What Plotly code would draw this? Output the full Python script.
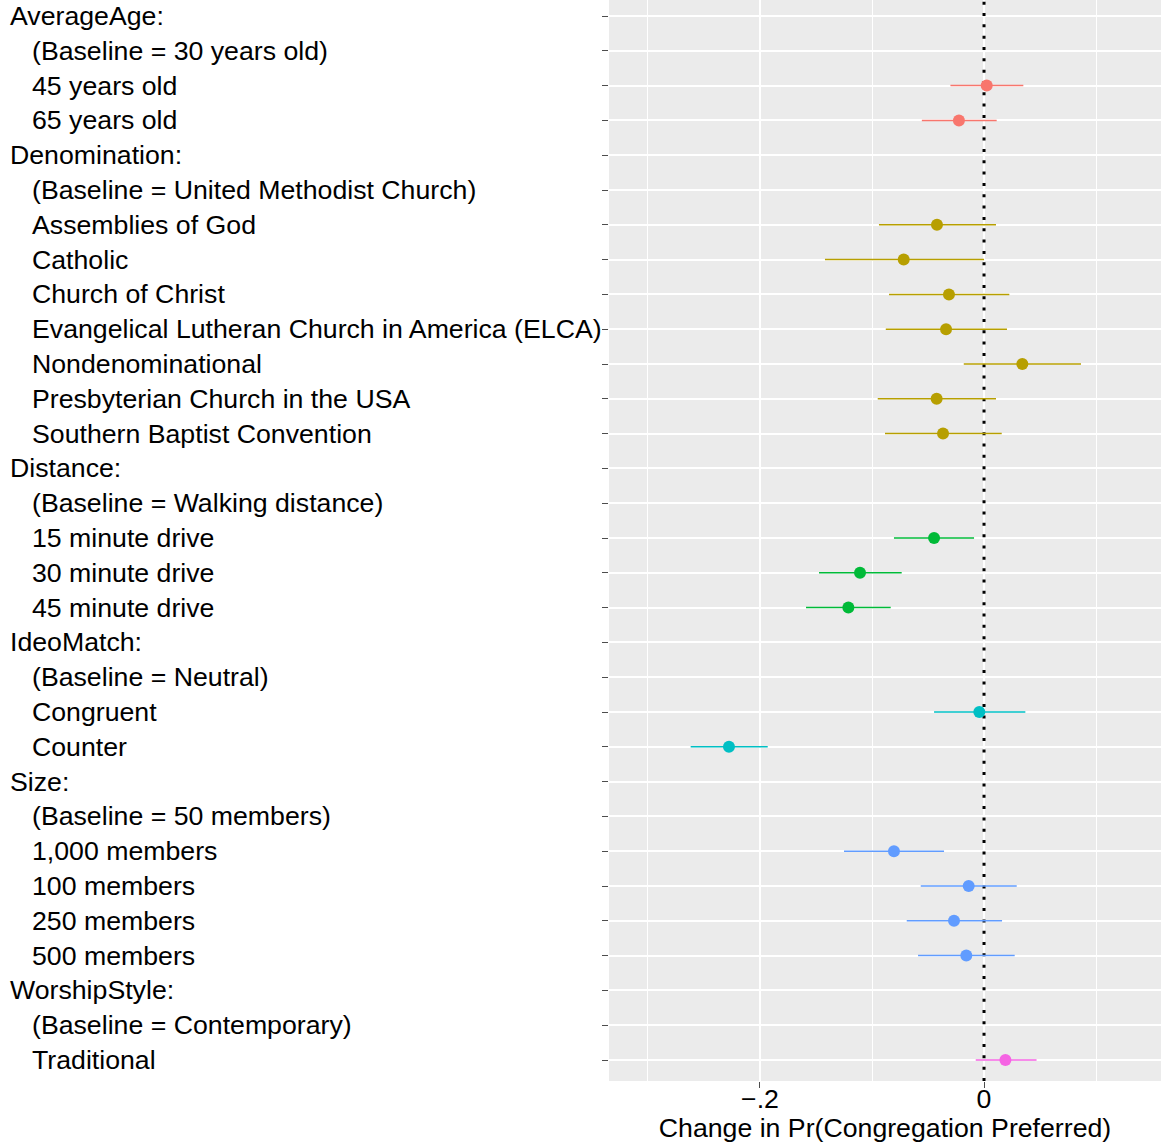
import plotly.graph_objects as go

# Row labels, top to bottom; headers flush left, levels indented
labels = [
    "AverageAge:", "(Baseline = 30 years old)", "45 years old", "65 years old",
    "Denomination:", "(Baseline = United Methodist Church)", "Assemblies of God", "Catholic",
    "Church of Christ", "Evangelical Lutheran Church in America (ELCA)", "Nondenominational",
    "Presbyterian Church in the USA", "Southern Baptist Convention",
    "Distance:", "(Baseline = Walking distance)", "15 minute drive", "30 minute drive", "45 minute drive",
    "IdeoMatch:", "(Baseline = Neutral)", "Congruent", "Counter",
    "Size:", "(Baseline = 50 members)", "1,000 members", "100 members", "250 members", "500 members",
    "WorshipStyle:", "(Baseline = Contemporary)", "Traditional",
]
is_header = [lab.endswith(":") for lab in labels]

attributes = ["AverageAge", "Denomination", "Distance", "IdeoMatch", "Size", "WorshipStyle"]
attr_colors = ["#F8766D", "#B79F00", "#00BA38", "#00BFC4", "#619CFF", "#F564E3"]

# Estimates with 95% intervals per attribute level (None for header/baseline rows)
row_attr = (["AverageAge"] * 4 + ["Denomination"] * 9 + ["Distance"] * 5
            + ["IdeoMatch"] * 4 + ["Size"] * 6 + ["WorshipStyle"] * 3)
estimate = [None, None, 0.0024, -0.0224,
            None, None, -0.0420, -0.0717, -0.0313, -0.0339, 0.0342, -0.0423, -0.0366,
            None, None, -0.0446, -0.1107, -0.1211,
            None, None, -0.0042, -0.2277,
            None, None, -0.0804, -0.0137, -0.0268, -0.0158,
            None, None, 0.0191]
lower = [None, None, -0.0300, -0.0555,
         None, None, -0.0938, -0.1420, -0.0848, -0.0877, -0.0181, -0.0949, -0.0884,
         None, None, -0.0804, -0.1473, -0.1589,
         None, None, -0.0446, -0.2619,
         None, None, -0.1250, -0.0565, -0.0690, -0.0589,
         None, None, -0.0074]
upper = [None, None, 0.0351, 0.0113,
         None, None, 0.0107, 0.0000, 0.0226, 0.0205, 0.0866, 0.0107, 0.0158,
         None, None, -0.0089, -0.0735, -0.0833,
         None, None, 0.0369, -0.1931,
         None, None, -0.0357, 0.0292, 0.0161, 0.0274,
         None, None, 0.0469]

n = len(labels)
ypos = [n - i for i in range(n)]  # top row gets the largest value
y_range = [0.397, 31.46]

FONT = "Liberation Sans, Arial, Helvetica, sans-serif"
FS = 26.7

fig = go.Figure()

# Dotted reference line at zero, beneath the estimates
fig.add_trace(go.Scatter(
    x=[0, 0], y=y_range, mode="lines",
    line=dict(color="black", width=3, dash="3px,8.33px"),
    showlegend=False, hoverinfo="skip",
))

for attr, col in zip(attributes, attr_colors):
    idx = [i for i in range(n) if row_attr[i] == attr and estimate[i] is not None]
    fig.add_trace(go.Scatter(
        x=[estimate[i] for i in idx],
        y=[ypos[i] for i in idx],
        mode="markers",
        marker=dict(color=col, size=12, line=dict(width=0)),
        error_x=dict(
            type="data", symmetric=False,
            array=[upper[i] - estimate[i] for i in idx],
            arrayminus=[estimate[i] - lower[i] for i in idx],
            width=0, thickness=1.5, color=col,
        ),
        showlegend=False,
        hoverinfo="skip",
    ))

# Left-aligned row labels
for lab, hdr, y in zip(labels, is_header, ypos):
    fig.add_annotation(
        text=lab, xref="paper", yref="y", x=0, y=y,
        xanchor="left", yanchor="middle",
        xshift=-601 if hdr else -579,
        showarrow=False,
        font=dict(family=FONT, size=FS, color="black"),
    )

fig.update_layout(
    width=1161, height=1143,
    margin=dict(l=609, r=0, t=0, b=62, autoexpand=False),
    paper_bgcolor="white",
    plot_bgcolor="#EBEBEB",
    font=dict(family=FONT, color="black"),
    xaxis=dict(
        range=[-0.3348, 0.158],
        tickmode="array", tickvals=[-0.2, 0], ticktext=["\u2212.2", "0"],
        ticks="outside", ticklen=6, tickwidth=1.2, tickcolor="#4d4d4d",
        ticklabelstandoff=-12,
        tickfont=dict(family=FONT, size=FS, color="black"),
        showgrid=True, gridcolor="white", gridwidth=2,
        minor=dict(tickmode="array", tickvals=[-0.3, -0.1, 0.1], showgrid=True,
                   gridcolor="white", gridwidth=1, ticks=""),
        zeroline=False, showline=False,
        title=dict(text="Change in Pr(Congregation Preferred)",
                   font=dict(family=FONT, size=FS, color="black"), standoff=0),
        automargin=False,
    ),
    yaxis=dict(
        range=y_range,
        tickmode="array", tickvals=ypos, showticklabels=False,
        ticks="outside", ticklen=6, tickwidth=1.2, tickcolor="#4d4d4d",
        showgrid=True, gridcolor="white", gridwidth=2,
        zeroline=False, showline=False,
        automargin=False,
    ),
)

fig.write_html("out.html")
